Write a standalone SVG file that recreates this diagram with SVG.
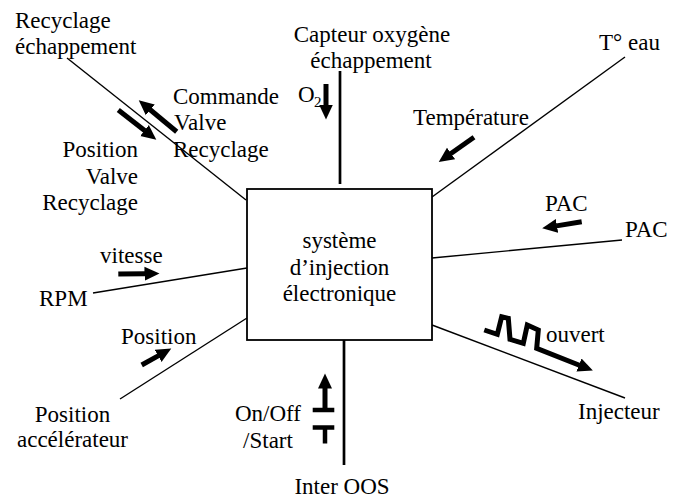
<svg xmlns="http://www.w3.org/2000/svg" width="682" height="501" viewBox="0 0 682 501">
<defs>
<style>
text{font-family:'Liberation Serif','Times New Roman',serif;font-size:23px;fill:#000}
.m{text-anchor:middle}
.e{text-anchor:end}
.thin{stroke:#000;stroke-width:1.4;fill:none}
.thick{stroke:#000;stroke-width:2.7;fill:none}
.sig{stroke:#000;stroke-width:5;fill:none;stroke-linejoin:miter;marker-end:url(#head)}
.bar{stroke:#000;stroke-width:4.5;fill:none}
</style>
<marker id="head" markerUnits="userSpaceOnUse" markerWidth="16" markerHeight="16" viewBox="0 0 16 16" refX="0.5" refY="8" orient="auto">
<path d="M0,1 L15,8 L0,15 z" fill="#000"/>
</marker>
</defs>
<rect width="682" height="501" fill="#fff"/>

<g id="connectors">
<line class="thin" x1="67" y1="58" x2="246" y2="200"/>
<line class="thick" x1="340" y1="71" x2="340" y2="184"/>
<line class="thin" x1="625" y1="57" x2="432" y2="197"/>
<line class="thin" x1="622" y1="240" x2="432" y2="258"/>
<line class="thin" x1="432" y1="325" x2="625" y2="398"/>
<line class="thick" x1="344" y1="340" x2="344" y2="465"/>
<line class="thin" x1="120" y1="399" x2="247" y2="318"/>
<line class="thin" x1="93" y1="293" x2="247" y2="268"/>
</g>

<g id="signals">
<line class="sig" x1="176.7" y1="131.7" x2="149.9" y2="109.5"/>
<line class="sig" x1="118.3" y1="110" x2="144.9" y2="130.8"/>
<line class="sig" x1="326" y1="84" x2="326" y2="105"/>
<line class="sig" x1="474" y1="137.3" x2="450.6" y2="153.7"/>
<line class="sig" x1="581.7" y1="221.7" x2="556.5" y2="225.9"/>
<line class="sig" x1="118.3" y1="274" x2="145" y2="273.7"/>
<line class="sig" x1="141.7" y1="365" x2="158.6" y2="355.6"/>
<line class="sig" x1="325" y1="410" x2="325" y2="388"/>
<line class="bar" x1="312.7" y1="410" x2="334.3" y2="410"/>
<line class="bar" x1="312.7" y1="427.5" x2="334.3" y2="427.5"/>
<line class="bar" x1="325" y1="427.5" x2="325" y2="443.5"/>
<polyline class="sig" points="484.3,330 497.3,334.3 501.7,316.7 508.3,318.3 510,339.3 523.3,343.3 527.3,325 538.3,330 536.7,348.3 579.4,365.2"/>
<text x="173" y="104">Commande</text>
<text x="174" y="130">Valve</text>
<text x="173" y="157">Recyclage</text>
<text class="e" x="138" y="157">Position</text>
<text class="e" x="138" y="183.5">Valve</text>
<text class="e" x="138" y="210">Recyclage</text>
<text x="298" y="102">O</text>
<text x="314" y="107" style="font-size:15px">2</text>
<text x="413" y="125">Température</text>
<text x="545" y="211">PAC</text>
<text x="100" y="263">vitesse</text>
<text x="121" y="344">Position</text>
<text class="m" x="268" y="421">On/Off</text>
<text class="m" x="268" y="448">/Start</text>
<text x="546" y="342">ouvert</text>
</g>

<g id="systeme">
<rect x="247" y="189" width="185" height="151" fill="#fff" stroke="#000" stroke-width="1.8"/>
<text class="m" x="339.5" y="248">système</text>
<text class="m" x="339.5" y="274.5">d’injection</text>
<text class="m" x="339.5" y="301">électronique</text>
</g>

<g id="recyclage-echappement">
<text x="15" y="28">Recyclage</text>
<text x="15" y="53.5">échappement</text>
</g>
<g id="capteur-oxygene">
<text class="m" x="372" y="42">Capteur oxygène</text>
<text class="m" x="371" y="67.5">échappement</text>
</g>
<g id="t-eau">
<text x="599" y="50">T° eau</text>
</g>
<g id="pac">
<text x="625" y="237">PAC</text>
</g>
<g id="injecteur">
<text x="578" y="419">Injecteur</text>
</g>
<g id="inter-oos">
<text class="m" x="342" y="494">Inter OOS</text>
</g>
<g id="position-accelerateur">
<text class="m" x="72.5" y="422">Position</text>
<text class="m" x="72.5" y="447">accélérateur</text>
</g>
<g id="rpm">
<text x="39" y="306">RPM</text>
</g>
</svg>
